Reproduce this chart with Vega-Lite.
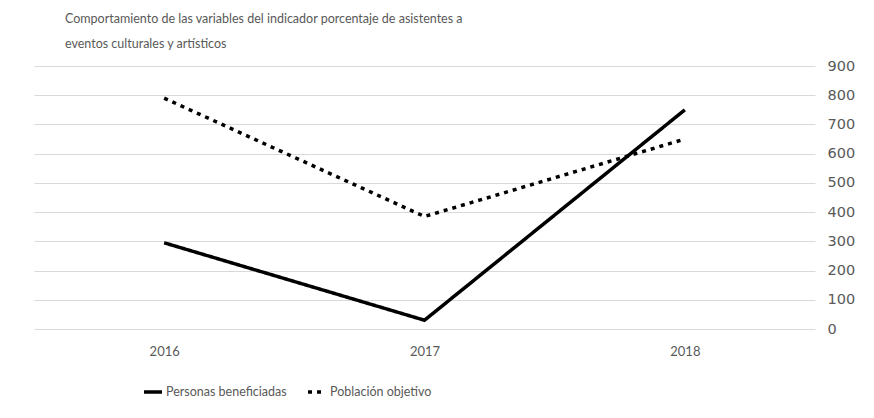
{
  "$schema": "https://vega.github.io/schema/vega-lite/v6.json",
  "width": 781,
  "height": 263,
  "autosize": "none",
  "padding": {"left": 34, "top": 66, "right": 59, "bottom": 89},
  "background": "white",
  "title": {
    "text": ["Comportamiento de las variables del indicador porcentaje de asistentes a", "eventos culturales y artísticos"],
    "anchor": "start",
    "frame": "group",
    "dx": 31,
    "offset": 8,
    "font": "Lato",
    "fontSize": 12.5,
    "fontWeight": "normal",
    "color": "#595959",
    "lineHeight": 25
  },
  "data": {
    "values": [
      {"year": "2016", "serie": "Personas beneficiadas", "valor": 295},
      {"year": "2017", "serie": "Personas beneficiadas", "valor": 30},
      {"year": "2018", "serie": "Personas beneficiadas", "valor": 750},
      {"year": "2016", "serie": "Población objetivo", "valor": 790},
      {"year": "2017", "serie": "Población objetivo", "valor": 385},
      {"year": "2018", "serie": "Población objetivo", "valor": 650}
    ]
  },
  "mark": {"type": "line", "color": "black", "strokeWidth": 3.5},
  "encoding": {
    "x": {
      "field": "year",
      "type": "ordinal",
      "scale": {"type": "point", "padding": 0.5},
      "axis": {
        "title": null,
        "labelAngle": 0,
        "domain": false,
        "ticks": false,
        "grid": false,
        "labelPadding": 16,
        "labelFont": "Lato",
        "labelFontSize": 13,
        "labelColor": "#595959"
      }
    },
    "y": {
      "field": "valor",
      "type": "quantitative",
      "scale": {"domain": [0, 900], "nice": false},
      "axis": {
        "orient": "right",
        "title": null,
        "values": [0, 100, 200, 300, 400, 500, 600, 700, 800, 900],
        "domain": false,
        "ticks": false,
        "labelPadding": 12,
        "labelFont": "DejaVu Sans",
        "labelFontSize": 14.5,
        "labelColor": "#595959",
        "gridColor": "#d9d9d9",
        "gridWidth": 1
      }
    },
    "strokeDash": {
      "field": "serie",
      "type": "nominal",
      "scale": {"domain": ["Personas beneficiadas", "Población objetivo"], "range": [[1, 0], [4, 5]]},
      "legend": {
        "title": null,
        "orient": "none",
        "direction": "horizontal",
        "legendX": 108,
        "legendY": 315,
        "symbolType": "stroke",
        "symbolSize": 324,
        "symbolStrokeWidth": 3.5,
        "symbolStrokeColor": "black",
        "labelFont": "Lato",
        "labelFontSize": 12.5,
        "labelColor": "#595959",
        "labelOffset": 2,
        "columnPadding": 14
      }
    }
  },
  "config": {"view": {"stroke": null}}
}
